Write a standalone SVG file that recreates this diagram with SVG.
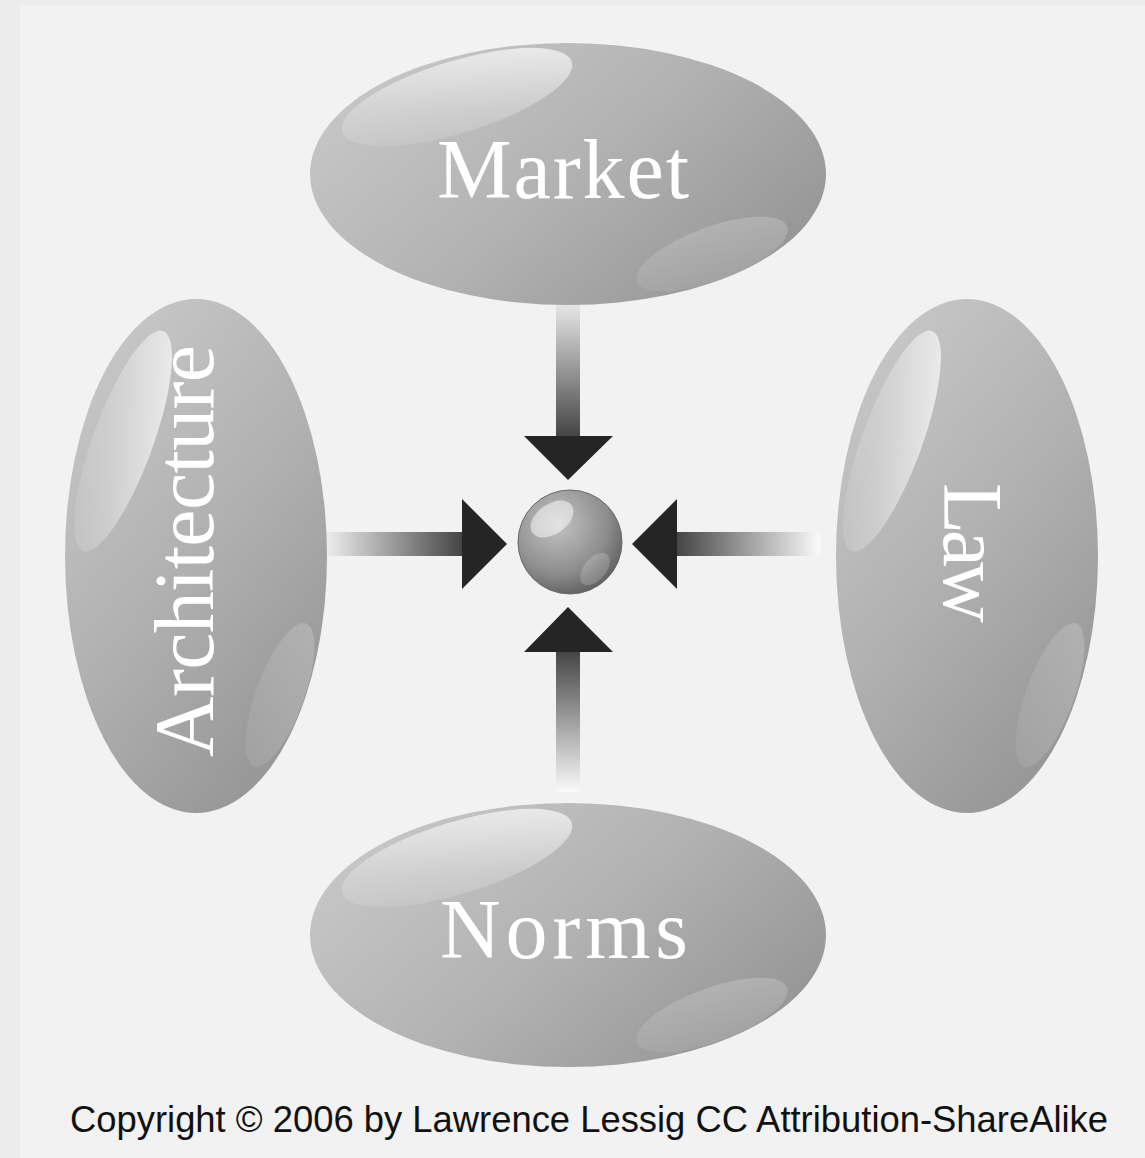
<svg xmlns="http://www.w3.org/2000/svg" width="1145" height="1158" viewBox="0 0 1145 1158">
<style>
.lbl{font-family:"Liberation Serif","DejaVu Serif",serif;font-size:84px;fill:#ffffff;text-anchor:middle}
.copy{font-family:"Liberation Sans",Arial,sans-serif;font-size:36px;fill:#111111}
.head{fill:#252525}
</style>
<defs>
<linearGradient id="gH" x1="0" y1="0.2" x2="1" y2="0.8">
<stop offset="0" stop-color="#c8c8c8"/>
<stop offset="0.5" stop-color="#b2b2b2"/>
<stop offset="1" stop-color="#939393"/>
</linearGradient>
<linearGradient id="gV" x1="0.2" y1="0" x2="0.8" y2="1">
<stop offset="0" stop-color="#c8c8c8"/>
<stop offset="0.5" stop-color="#b0b0b0"/>
<stop offset="1" stop-color="#939393"/>
</linearGradient>
<linearGradient id="hl1" x1="1" y1="0" x2="0" y2="1">
<stop offset="0" stop-color="#ffffff" stop-opacity="0.8"/>
<stop offset="0.6" stop-color="#ffffff" stop-opacity="0.25"/>
<stop offset="1" stop-color="#ffffff" stop-opacity="0.03"/>
</linearGradient>
<linearGradient id="hl2" x1="1" y1="0" x2="0" y2="1">
<stop offset="0" stop-color="#ffffff" stop-opacity="0.22"/>
<stop offset="1" stop-color="#ffffff" stop-opacity="0.05"/>
</linearGradient>
<radialGradient id="sph" cx="0.38" cy="0.32" r="0.75">
<stop offset="0" stop-color="#c4c4c4"/>
<stop offset="0.65" stop-color="#8c8c8c"/>
<stop offset="1" stop-color="#5a5a5a"/>
</radialGradient>
<linearGradient id="sTop" x1="0" y1="0" x2="0" y2="1">
<stop offset="0" stop-color="#e8e8e8"/>
<stop offset="1" stop-color="#444444"/>
</linearGradient>
<linearGradient id="sBot" x1="0" y1="0" x2="0" y2="1">
<stop offset="0" stop-color="#444444"/>
<stop offset="1" stop-color="#fafafa"/>
</linearGradient>
<linearGradient id="sLeft" x1="0" y1="0" x2="1" y2="0">
<stop offset="0" stop-color="#eeeeee"/>
<stop offset="1" stop-color="#444444"/>
</linearGradient>
<linearGradient id="sRight" x1="0" y1="0" x2="1" y2="0">
<stop offset="0" stop-color="#444444"/>
<stop offset="1" stop-color="#fafafa"/>
</linearGradient>
</defs>
<rect x="0" y="0" width="1145" height="1158" fill="#ececec"/>
<rect x="20" y="5" width="1125" height="1153" fill="#f2f2f2"/>

<g id="connectors">
<rect x="556" y="303" width="24" height="134" fill="url(#sTop)"/>
<polygon class="head" points="524,436 613,436 568,480"/>
<rect x="556" y="651" width="24" height="141" fill="url(#sBot)"/>
<polygon class="head" points="524,652 613,652 568,607"/>
<rect x="326" y="532" width="137" height="24" fill="url(#sLeft)"/>
<polygon class="head" points="462,499 462,589 507,544"/>
<rect x="676" y="532" width="144" height="24" fill="url(#sRight)"/>
<polygon class="head" points="677,499 677,589 632,544"/>
</g>

<g id="center">
<circle cx="570" cy="542" r="52" fill="url(#sph)" stroke="#6a6a6a" stroke-width="1"/>
<ellipse cx="552" cy="519" rx="24" ry="15" transform="rotate(-35 552 519)" fill="#ffffff" fill-opacity="0.5"/>
<ellipse cx="595" cy="569" rx="19" ry="11" transform="rotate(-50 595 569)" fill="#ffffff" fill-opacity="0.18"/>
</g>

<g id="market">
<ellipse cx="568" cy="174" rx="258" ry="131" fill="url(#gH)"/>
<ellipse cx="457" cy="97" rx="120" ry="36" transform="rotate(-17 457 97)" fill="url(#hl1)"/>
<ellipse cx="712" cy="254" rx="80" ry="27" transform="rotate(-20 712 254)" fill="url(#hl2)"/>
<text class="lbl" x="563" y="198" textLength="252" lengthAdjust="spacing">Market</text>
</g>

<g id="norms">
<ellipse cx="568" cy="935" rx="258" ry="132" fill="url(#gH)"/>
<ellipse cx="457" cy="858" rx="120" ry="36" transform="rotate(-17 457 858)" fill="url(#hl1)"/>
<ellipse cx="712" cy="1015" rx="80" ry="27" transform="rotate(-20 712 1015)" fill="url(#hl2)"/>
<text class="lbl" x="564" y="958" textLength="248" lengthAdjust="spacing">Norms</text>
</g>

<g id="architecture">
<ellipse cx="196" cy="556" rx="131" ry="257" fill="url(#gV)"/>
<ellipse cx="123" cy="441" rx="30" ry="117" transform="rotate(20 123 441)" fill="url(#hl1)"/>
<ellipse cx="280" cy="695" rx="24" ry="76" transform="rotate(20 280 695)" fill="url(#hl2)"/>
<text class="lbl" transform="translate(213 551) rotate(-90)" x="0" y="0" textLength="412" lengthAdjust="spacing">Architecture</text>
</g>

<g id="law">
<ellipse cx="967" cy="556" rx="131" ry="257" fill="url(#gV)"/>
<ellipse cx="892" cy="441" rx="30" ry="117" transform="rotate(20 892 441)" fill="url(#hl1)"/>
<ellipse cx="1050" cy="695" rx="24" ry="76" transform="rotate(20 1050 695)" fill="url(#hl2)"/>
<text class="lbl" transform="translate(944 553) rotate(90)" x="0" y="0" textLength="140" lengthAdjust="spacing">Law</text>
</g>

<text class="copy" x="70" y="1132" textLength="1038" lengthAdjust="spacingAndGlyphs">Copyright © 2006 by Lawrence Lessig CC Attribution-ShareAlike</text>
</svg>
